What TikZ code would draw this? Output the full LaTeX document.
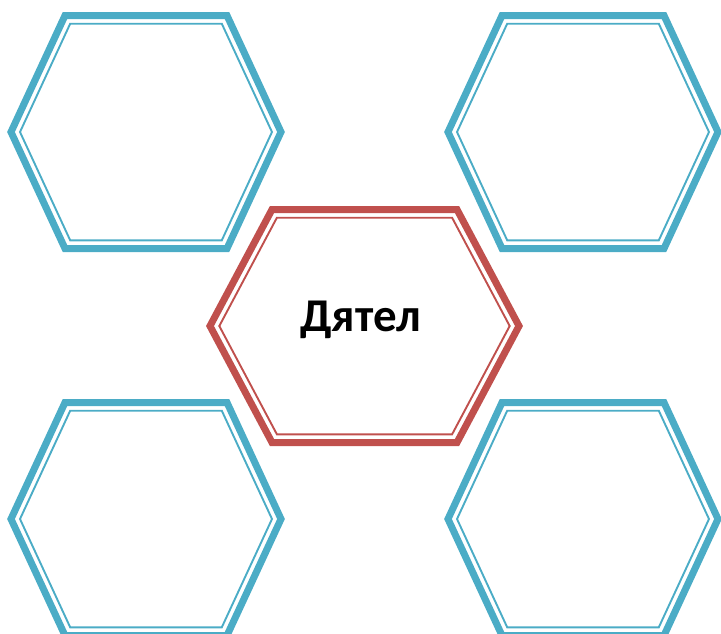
\documentclass[tikz,border=0pt]{standalone}
\usepackage{fontspec}
\newfontfamily\hexfont{Carlito}
\usetikzlibrary{positioning}

\definecolor{hexblue}{RGB}{75,172,198}
\definecolor{hexred}{RGB}{192,80,77}

% hexagon: style, centre, half width, half height, half top edge
\newcommand{\hexring}[5]{%
  \draw[#1] (#2) ++(-#3,0) -- ++({#3-#5},-#4) -- ++({2*#5},0)
    -- ++({#3-#5},#4) -- ++({#5-#3},#4) -- ++({-2*#5},0) -- cycle;}

\begin{document}
\begin{tikzpicture}[
  x=1pt, y=-1pt,
  thickblue/.style={draw=hexblue, line width=7pt},
  thinblue/.style={draw=hexblue, line width=1.9pt},
  thickred/.style={draw=hexred, line width=7pt},
  thinred/.style={draw=hexred, line width=1.9pt},
  title/.style={font=\hexfont\bfseries\fontsize{47}{50}\selectfont, text=black, inner sep=0pt},
]
\useasboundingbox (0,0) rectangle (721,633);

% --- Centres of the hexagons ---
\coordinate (nw) at (146,132);
\coordinate (ne) at (583,132);
\coordinate (sw) at (146,519);
\coordinate (se) at (583,519);
\coordinate (mid) at (364.5,326);

% --- Blue corner hexagons ---
\foreach \c in {nw,ne,sw,se} {
  \hexring{thickblue}{\c}{135}{116.5}{81}
  \hexring{thinblue}{\c}{126}{108.3}{75.8}
}

% --- Red centre hexagon ---
\hexring{thickred}{mid}{154.5}{116.5}{92.5}
\hexring{thinred}{mid}{145.2}{108.3}{87.6}

\node[title, anchor=base, xshift=-4pt, yshift=-5pt] (dyatel) at (mid) {Дятел};

\end{tikzpicture}
\end{document}
